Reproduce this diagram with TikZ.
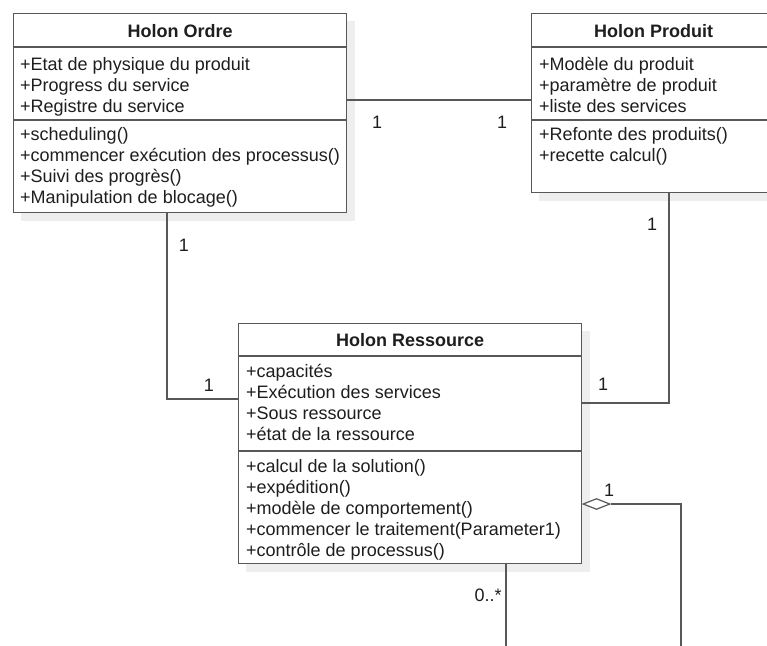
\documentclass[tikz,border=0pt]{standalone}
\usepackage{fontspec}
\setmainfont{Liberation Sans}
\usetikzlibrary{shapes.geometric}
\definecolor{linec}{HTML}{585858}
\definecolor{shadowc}{HTML}{EEEEEE}
\definecolor{textc}{HTML}{1E1E1E}
\begin{document}
\begin{tikzpicture}[x=1pt,y=-1pt,
  box/.style={draw=linec, line width=1.4pt, fill=white, inner sep=0pt, anchor=north west},
  txt/.style={anchor=base west, inner sep=0pt, font=\fontsize{18}{21}\selectfont, text=textc},
  ttl/.style={anchor=base, inner sep=0pt, font=\fontsize{18}{21}\selectfont\bfseries, text=textc},
  lbl/.style={anchor=center, inner sep=0pt, font=\fontsize{18}{21}\selectfont, text=textc},
  conn/.style={draw=linec, line width=1.4pt},
  shadow/.style={fill=shadowc}]
\useasboundingbox (0,0) rectangle (767,645);
% shadows
\fill[shadow] (21,21) rectangle (355,221);
\fill[shadow] (539,21) rectangle (783,201);
\fill[shadow] (246,331) rectangle (590,572);
% Holon Ordre
\node[box, minimum width=333pt, minimum height=199pt] (ordre) at (13,13) {};
\draw[conn] (ordre.west |- 0,47) -- (ordre.east |- 0,47);
\draw[conn] (ordre.west |- 0,120) -- (ordre.east |- 0,120);
\node[ttl] (ordreT) at (ordre.north |- 0,37) {Holon Ordre};
\foreach \t [count=\i] in {+Etat de physique du produit, +Progress du service, +Registre du service}
  \node[txt] (oa\i) at (20,49+21*\i) {\t};
\foreach \t [count=\i] in {+scheduling(), +commencer exécution des processus(), +Suivi des progrès(), +Manipulation de blocage()}
  \node[txt] (om\i) at (20,119+21*\i) {\t};
% Holon Produit
\node[box, minimum width=244pt, minimum height=179pt] (produit) at (531,13) {};
\draw[conn] (produit.west |- 0,47) -- (produit.east |- 0,47);
\draw[conn] (produit.west |- 0,120) -- (produit.east |- 0,120);
\node[ttl] (produitT) at (produit.north |- 0,37) {Holon Produit};
\foreach \t [count=\i] in {+Modèle du produit, +paramètre de produit, +liste des services}
  \node[txt] (pa\i) at (539,49+21*\i) {\t};
\foreach \t [count=\i] in {+Refonte des produits(), +recette calcul()}
  \node[txt] (pm\i) at (539,119+21*\i) {\t};
% Holon Ressource
\node[box, minimum width=343pt, minimum height=240pt] (ress) at (238,323) {};
\draw[conn] (ress.west |- 0,356) -- (ress.east |- 0,356);
\draw[conn] (ress.west |- 0,451) -- (ress.east |- 0,451);
\node[ttl] (ressT) at (ress.north |- 0,346) {Holon Ressource};
\foreach \t [count=\i] in {+capacités, +Exécution des services, +Sous ressource, +état de la ressource}
  \node[txt] (ra\i) at (246,356+21*\i) {\t};
\foreach \t [count=\i] in {+calcul de la solution(), +expédition(), +modèle de comportement(), +commencer le traitement(Parameter1), +contrôle de processus()}
  \node[txt] (rm\i) at (246,451+21*\i) {\t};
% connectors
\draw[conn] (ordre.east |- 0,100) -- (produit.west |- 0,100);
\coordinate (b1) at (167,399);
\draw[conn] (b1 |- ordre.south) -- (b1) -- (b1 -| ress.west);
\coordinate (b2) at (669,403);
\draw[conn] (b2 |- produit.south) -- (b2) -- (b2 -| ress.east);
\node[diamond, draw=linec, fill=white, line width=1.2pt, aspect=2.5, minimum width=27pt, minimum height=11pt, inner sep=0pt, anchor=west] (dia) at (ress.east |- 0,504) {};
\coordinate (c1) at (681,504);
\coordinate (c2) at (681,650);
\draw[conn] (dia.east) -- (c1) -- (c2);
\coordinate (d1) at (506,650);
\draw[conn] (d1 |- ress.south) -- (d1);
% multiplicities
\node[lbl] (l1) at (377,122) {1};
\node[lbl] (l2) at (502,122) {1};
\node[lbl] (l3) at (652,224) {1};
\node[lbl] (l4) at (184,245) {1};
\node[lbl] (l5) at (209,385) {1};
\node[lbl] (l6) at (603,384) {1};
\node[lbl] (l7) at (609,490) {1};
\node[lbl] (l8) at (488,595) {0..*};
\end{tikzpicture}
\end{document}
